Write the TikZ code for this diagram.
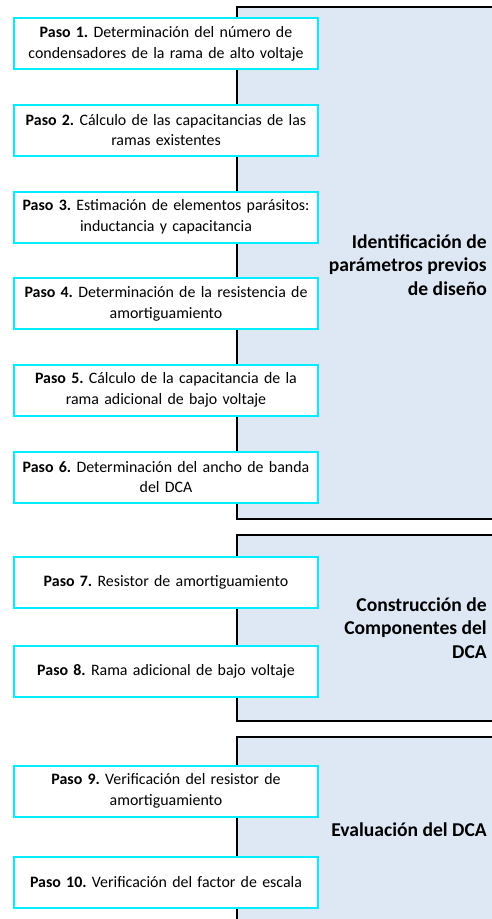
\documentclass[tikz,border=0pt]{standalone}
\usepackage{fontspec}
\setmainfont{Carlito}
\frenchspacing
\definecolor{panelblue}{RGB}{222,232,244}
\definecolor{pasocyan}{RGB}{0,238,255}
\tikzset{
	pasobox/.style={draw=pasocyan, line width=2pt, fill=white, minimum width=304pt, minimum height=51pt, text width=300pt, align=center, inner sep=0pt, font=\fontsize{15.9}{20.7}\selectfont},
	panel/.style={draw=black, line width=1.3pt, fill=panelblue},
	titulo/.style={anchor=east, align=right, inner sep=0pt, font=\fontsize{19.6}{23.2}\selectfont\bfseries}
}
\begin{document}
\begin{tikzpicture}[x=1pt,y=-1pt]
			\useasboundingbox (0,0) rectangle (492,919);
			\clip (0,0) rectangle (492,919);
			
			% etapas
			\draw[panel] (237,7) rectangle (510,519);
			\draw[panel] (237,535) rectangle (510,721);
			\draw[panel] (237,737) rectangle (510,940);
			
			\node[titulo] (etapa1) at (487,265) {Identificación de\\parámetros previos\\de diseño};
			\node[titulo] (etapa2) at (487,628) {Construcción de\\Componentes del\\DCA};
			\node[titulo] (etapa3) at (487,830) {Evaluación del DCA};
			
			% pasos
			\node[pasobox] (paso1) at (166,43.5) {\textbf{Paso 1.} Determinación del número de\\condensadores de la rama de alto voltaje};
			\node[pasobox] (paso2) at (166,130) {\textbf{Paso 2.} Cálculo de las capacitancias de las\\ramas existentes};
			\node[pasobox] (paso3) at (166,217) {\textbf{Paso 3.} Estimación de elementos parásitos:\\inductancia y capacitancia};
			\node[pasobox] (paso4) at (166,303.5) {\textbf{Paso 4.} Determinación de la resistencia de\\amortiguamiento};
			\node[pasobox] (paso5) at (166,390) {\textbf{Paso 5.} Cálculo de la capacitancia de la\\rama adicional de bajo voltaje};
			\node[pasobox] (paso6) at (166,477) {\textbf{Paso 6.} Determinación del ancho de banda\\del DCA};
			\node[pasobox] (paso7) at (166,582.5) {\textbf{Paso 7.} Resistor de amortiguamiento};
			\node[pasobox] (paso8) at (166,671.5) {\textbf{Paso 8.} Rama adicional de bajo voltaje};
			\node[pasobox] (paso9) at (166,791) {\textbf{Paso 9.} Verificación del resistor de\\amortiguamiento};
			\node[pasobox] (paso10) at (166,882) {\textbf{Paso 10.} Verificación del factor de escala};
\end{tikzpicture}
\end{document}
